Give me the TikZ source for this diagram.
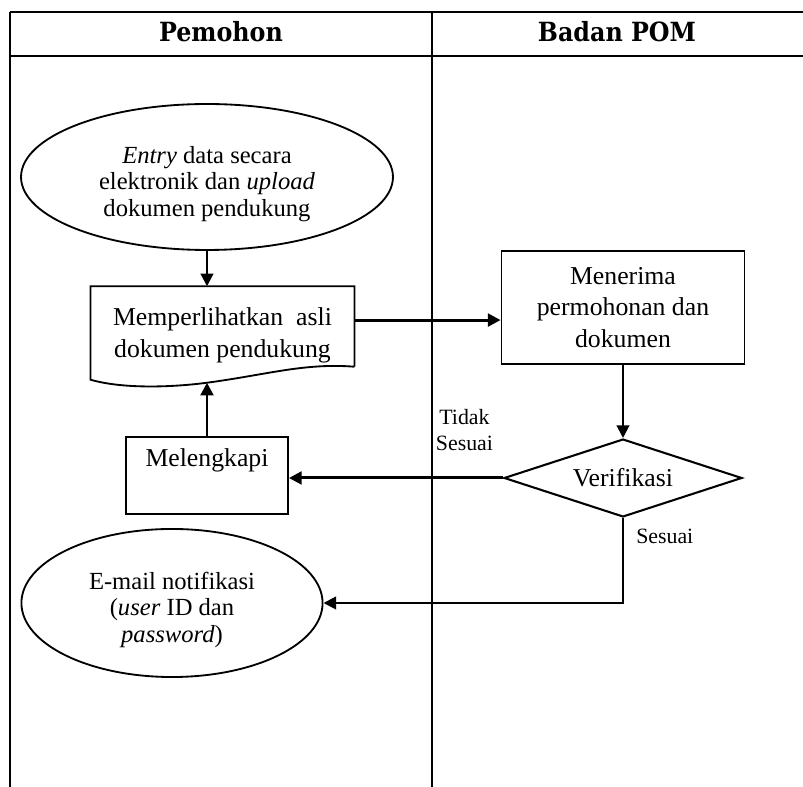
\documentclass[tikz,border=0pt]{standalone}
\usepackage{fontspec}
\setmainfont{Liberation Serif}
\newfontfamily\headfont{DejaVu Serif Condensed}
\usetikzlibrary{positioning}
\usetikzlibrary{calc}
\usetikzlibrary{shapes.geometric}
\usetikzlibrary{arrows.meta}
\tikzset{lane/.style={line width=0.45pt}}
\tikzset{headline/.style={line width=0.8pt}}
\tikzset{headtext/.style={font=\headfont\bfseries\fontsize{11.5}{14}\selectfont}}
\tikzset{flowtext/.style={font=\fontsize{11.2}{13.7}\selectfont, align=center}}
\tikzset{terminal/.style={ellipse, draw, line width=0.8pt, inner sep=0pt, align=center, text height=36.7pt, font=\fontsize{10.7}{11.6}\selectfont}}
\tikzset{procbox/.style={rectangle, draw, line width=0.8pt, inner sep=0pt, flowtext}}
\tikzset{decision/.style={diamond, draw, line width=0.9pt, inner sep=0pt, shape aspect=3, flowtext}}
\tikzset{note/.style={font=\fontsize{9.5}{11}\selectfont, align=center}}
\tikzset{flow/.style={-{Triangle[length=5.5pt,width=5.5pt]}, line width=0.9pt}}
\tikzset{thickflow/.style={flow, line width=1.3pt}}

\begin{document}
\begin{tikzpicture}[x=0.435pt, y=-0.435pt]
\useasboundingbox (0,0) rectangle (803,787);
\draw[headline] (10,12) -- (803,12);
\draw[headline] (10,56) -- (803,56);
\draw[lane] (10,12) -- (10,787);
\draw[lane] (432,12) -- (432,787);
\node[headtext] (hpem) at (221,32) {Pemohon};
\node[headtext] (hpom) at (617,32) {Badan POM};

\node[terminal, minimum width=161.8pt, minimum height=63.5pt] (entry) at (207,177) {\textit{Entry} data secara\\elektronik dan \textit{upload}\\dokumen pendukung};
\node[minimum width=114.4pt, minimum height=33.5pt, inner sep=0pt, text height=30.6pt, text depth=4pt, flowtext] (show) at (222.5,326.5) {Memperlihatkan~~asli\\dokumen pendukung};
\node[procbox, minimum width=70.5pt, text height=9pt, text depth=16.4pt, inner ysep=4pt] (fix) at (207,475.5) {Melengkapi};
\node[procbox, minimum width=105.7pt, minimum height=49.2pt] (accept) at (623,307.5) {Menerima\\permohonan dan\\dokumen};
\node[decision, minimum width=103.5pt, minimum height=33.9pt] (verif) at (623,478) {Verifikasi};
\node[terminal, minimum width=131pt, minimum height=64.4pt] (notify) at (172,603) {E-mail notifikasi\\(\textit{user} ID dan\\\textit{password})};

\draw[line width=0.8pt] (show.south east) -- (show.north east) -- (show.north west) -- ($(show.south west)+(0,13)$) .. controls +(35,10) and +(-30,4) .. ($(show.south)+(-15.5,16)$) coordinate (wave) .. controls +(60,-8) and +(-50,-4) .. (show.south east);

\draw[flow] (entry.south) -- (entry.south |- show.north);
\draw[thickflow] ([yshift=2.8pt]show.east) -- ([yshift=2.8pt]show.east -| accept.west);
\draw[flow] (accept.south) -- (verif.north);
\draw[thickflow] (verif.west) -- node[note, pos=0.18, above=8pt] {Tidak\\Sesuai} (verif.west -| fix.east);
\draw[thickflow] (fix.north) -- (wave);
\draw[flow] (verif.south) |- node[note, pos=0.11, right=2pt] {Sesuai} (notify.east);
\end{tikzpicture}
\end{document}
